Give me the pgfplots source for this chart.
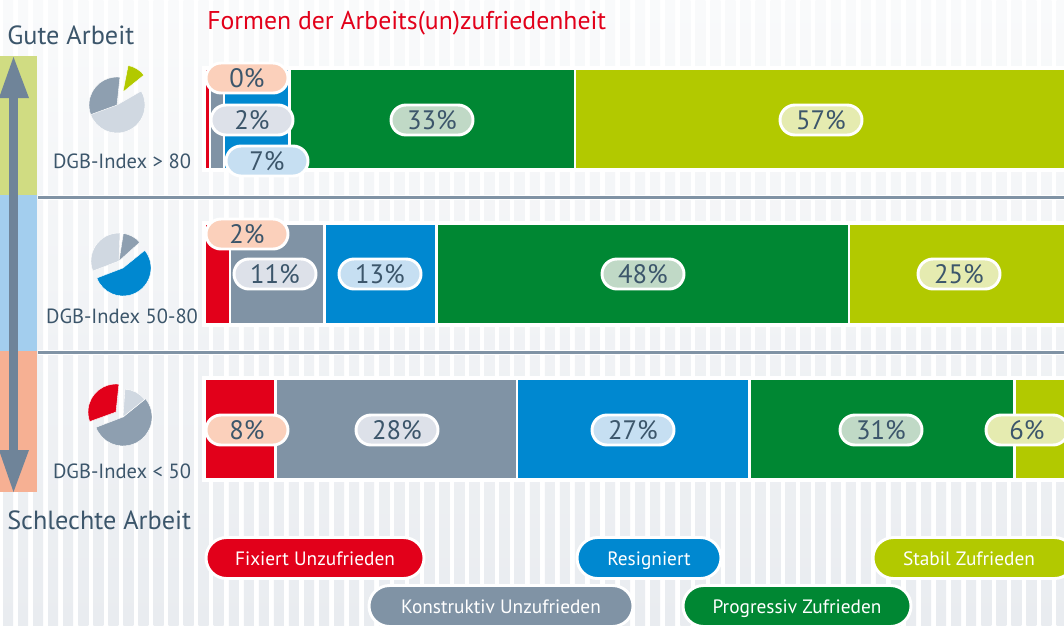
\documentclass[border=0pt]{standalone}
\usepackage{pgfplots}
\pgfplotsset{compat=1.18}
\usepackage{fontspec}
\setmainfont{PT Sans}
\usetikzlibrary{shapes.misc}
\definecolor{cR}{HTML}{E2001A}
\definecolor{cG}{HTML}{8093A5}
\definecolor{cB}{HTML}{0088D0}
\definecolor{cD}{HTML}{008733}
\definecolor{cL}{HTML}{B2C900}
\definecolor{lR}{HTML}{FBD0BB}
\definecolor{lG}{HTML}{DDE1E9}
\definecolor{lB}{HTML}{C6DFF2}
\definecolor{lD}{HTML}{C0D9C6}
\definecolor{lL}{HTML}{E5EBB0}
\definecolor{txt}{HTML}{3C566B}
\definecolor{arw}{HTML}{6F8499}
\definecolor{pL}{HTML}{D0D8E1}
\definecolor{pG}{HTML}{8E9FB0}
\definecolor{sT}{HTML}{F9FAFB}
\definecolor{sB}{HTML}{E9ECF0}
\definecolor{bL}{HTML}{D0DC82}
\definecolor{bB}{HTML}{A3CEEE}
\definecolor{bR}{HTML}{F6B093}
\pgfplotstableread{
y      fix  kon  res  pro  sta
119.2  0.6  1.6  7.6  33.2 57.0
274.2  2.9  11.0 13.0 48.0 25.1
429.2  8.2  28.1 27.0 30.8 5.9
}\bars
\newcommand{\slice}[6]{\fill[#6,draw=white,line width=0.3pt] (#1*0.75pt,-#2*0.75pt) -- ++(#3:#5*0.75pt) arc[start angle=#3,end angle=#4,radius=#5*0.75pt] -- cycle;}
\tikzset{
  pill/.style n args={4}{rounded rectangle,draw=white,line width=2.2pt,fill=#3,text=#4,minimum width=#1*0.75pt,minimum height=#2*0.75pt,inner sep=0pt},
  val/.style={pill={82}{30}{#1}{txt},font=\fontsize{20}{20}\selectfont,text height=14pt,text depth=0pt},
  leg/.style n args={2}{pill={#1}{41}{#2}{white},font=\fontsize{14.5}{15}\selectfont,text height=10.5pt,text depth=0pt},
}
\begin{document}
\begin{tikzpicture}
\useasboundingbox (0,0) rectangle (798pt,-468.75pt);
\clip (0,0) rectangle (798pt,-468.75pt);
\begin{scope}[x=0.75pt,y=-0.75pt]
\fill[white] (0,0) rectangle (1064,625);
\foreach \i in {0,...,70}{
  \shade[top color=sT,bottom color=sB] ({8+15.05*\i-5},0) rectangle ({8+15.05*\i+5},625);
}
\foreach \y in {69,224,379}{\fill[white] (202,\y-3) rectangle (1064,\y+103);}
\fill[white] (38,195) rectangle (1064,200);
\fill[white] (38,350) rectangle (1064,355);
\fill[bL] (0,56) rectangle (37,195);
\fill[bB] (0,195) rectangle (37,351);
\fill[bR] (0,351) rectangle (37,492);
\fill[cG] (38,195.5) rectangle (1064,198.5);
\fill[cG] (38,350.5) rectangle (1064,353.5);
\end{scope}
\begin{axis}[at={(0pt,0pt)},anchor=north west,scale only axis,width=798pt,height=468.75pt,
  hide axis,clip=true,xbar stacked,bar width=75pt,
  xmin=-23.84,xmax=99.88,ymin=0,ymax=625,y dir=reverse,
  every axis plot/.append style={draw=white,line width=1.8pt}]
\addplot[fill=cR] table[x=fix,y=y]{\bars};
\addplot[fill=cG] table[x=kon,y=y]{\bars};
\addplot[fill=cB] table[x=res,y=y]{\bars};
\addplot[fill=cD] table[x=pro,y=y]{\bars};
\addplot[fill=cL] table[x=sta,y=y]{\bars};
\end{axis}
% pies
\slice{117}{105}{200}{390}{28}{pL}
\slice{117}{105}{84}{200}{28}{pG}
\slice{123}{92}{39}{79}{27}{cL}
\slice{119}{261}{88}{201}{28}{pL}
\slice{119}{261}{42}{81}{28}{pG}
\slice{123}{268}{201}{399}{28}{cB}
\slice{123}{417}{201}{399}{29}{pG}
\slice{123}{417}{39}{86}{28}{pL}
\slice{116}{412}{84}{200}{28}{cR}
\begin{scope}[x=0.75pt,y=-0.75pt]
% arrow
\fill[arw] (9,96) rectangle (18,452);
\fill[arw] (13.5,57) -- (29,98) -- (-1,98) -- cycle;
\fill[arw] (13.5,492) -- (29,450) -- (-1,450) -- cycle;
% texts
\node[anchor=west,text=cR,font=\fontsize{19.3}{19}\selectfont,inner sep=0pt] at (207,23) {Formen der Arbeits(un)zufriedenheit};
\node[anchor=west,text=txt,font=\fontsize{19.7}{19}\selectfont,inner sep=0pt] at (7,35) {Gute Arbeit};
\node[anchor=west,text=txt,font=\fontsize{19.7}{19}\selectfont,inner sep=0pt] at (7,520) {Schlechte Arbeit};
\node[text=txt,font=\fontsize{15.4}{15}\selectfont,inner sep=0pt] at (122,161) {DGB-Index > 80};
\node[text=txt,font=\fontsize{15.4}{15}\selectfont,inner sep=0pt] at (122,316) {DGB-Index 50-80};
\node[text=txt,font=\fontsize{15.4}{15}\selectfont,inner sep=0pt] at (122,471) {DGB-Index < 50};
% value pills
\node[val=lB] at (267,161) {7\%};
\node[val=lG] at (252,120) {2\%};
\node[val=lR] at (247,78) {0\%};
\node[val=lD] at (432,120) {33\%};
\node[val=lL] at (821,120) {57\%};
\node[val=lG] at (275,274) {11\%};
\node[val=lR] at (247,234) {2\%};
\node[val=lB] at (380,274) {13\%};
\node[val=lD] at (643,274) {48\%};
\node[val=lL] at (959,274) {25\%};
\node[val=lR] at (247,430) {8\%};
\node[val=lG] at (397,430) {28\%};
\node[val=lB] at (633,430) {27\%};
\node[val=lD] at (881,430) {31\%};
\node[val=lL] at (1027,430) {6\%};
% legend
\node[leg={218}{cR}] at (315,558) {Fixiert Unzufrieden};
\node[leg={144}{cB}] at (649,558) {Resigniert};
\node[leg={202}{cL}] at (974,558) {};
\node[text=white,font=\fontsize{14.5}{15}\selectfont,text height=10.5pt,text depth=0pt,inner sep=0pt] at (969,558) {Stabil Zufrieden};
\node[leg={264}{cG}] at (501,606) {Konstruktiv Unzufrieden};
\node[leg={228}{cD}] at (797,606) {Progressiv Zufrieden};
\end{scope}
\end{tikzpicture}
\end{document}
